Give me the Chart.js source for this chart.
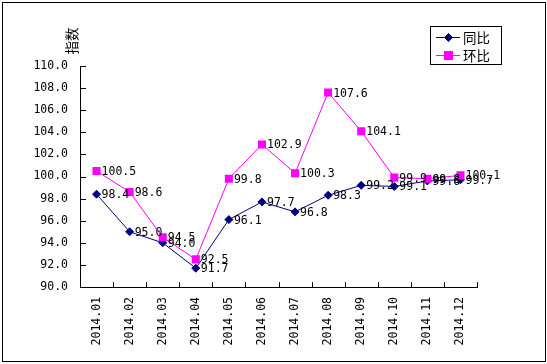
<!DOCTYPE html>
<html>
<head>
<meta charset="utf-8">
<script src="https://cdn.jsdelivr.net/npm/chart.js@4/dist/chart.umd.min.js"></script>
<style>
  html, body { margin: 0; padding: 0; background: #fff; }
  canvas { display: block; }
</style>
</head>
<body>
<canvas id="c" width="547" height="364"></canvas>
<script>
const categories = ['2014.01','2014.02','2014.03','2014.04','2014.05','2014.06','2014.07','2014.08','2014.09','2014.10','2014.11','2014.12'];
const yoyValues = [98.4, 95.0, 94.0, 91.7, 96.1, 97.7, 96.8, 98.3, 99.2, 99.1, 99.6, 99.7];
const momValues = [100.5, 98.6, 94.5, 92.5, 99.8, 102.9, 100.3, 107.6, 104.1, 99.9, 99.8, 100.1];
const seriesNames = ['同比', '环比'];
const yAxisTitle = '指数';
const yMin = 90, yMax = 110, yStep = 2;

const NUM_FAMILY = '"DejaVu Sans Mono", "Liberation Mono", monospace';
const NUM_SIZE = 11.5;
const NUM_FONT = NUM_SIZE + 'px ' + NUM_FAMILY;
const CJK_FONT = '13.5px "Noto Sans CJK SC", sans-serif';

const decorPlugin = {
  id: 'decor',
  beforeDraw(chart) {
    const ctx = chart.ctx;
    ctx.save();
    ctx.fillStyle = '#fff';
    ctx.fillRect(0, 0, chart.width, chart.height);
    ctx.strokeStyle = '#000';
    ctx.lineWidth = 1;
    ctx.strokeRect(2.5, 2.5, 543, 359);
    ctx.restore();
  },
  afterDraw(chart) {
    const ctx = chart.ctx;
    const area = chart.chartArea;
    const xs = chart.scales.x, ys = chart.scales.y;
    ctx.save();
    ctx.strokeStyle = '#000';
    ctx.lineWidth = 1;
    ctx.beginPath();
    for (let v = yMin; v <= yMax; v += yStep) {
      const py = Math.round(ys.getPixelForValue(v)) + 0.5;
      ctx.moveTo(area.left, py);
      ctx.lineTo(area.left + 6, py);
    }
    const n = categories.length;
    for (let i = 1; i <= n; i++) {
      let px;
      if (i === n) px = area.right;
      else px = (xs.getPixelForValue(i - 1) + xs.getPixelForValue(i)) / 2;
      px = Math.round(px) + 0.5;
      ctx.moveTo(px, area.bottom);
      ctx.lineTo(px, area.bottom - 5);
    }
    ctx.stroke();

    ctx.fillStyle = '#000';
    ctx.font = CJK_FONT;
    ctx.translate(area.left - 8, area.top - 25);
    ctx.rotate(-Math.PI / 2);
    ctx.textAlign = 'center';
    ctx.textBaseline = 'middle';
    ctx.fillText(yAxisTitle, 0, 0);
    ctx.restore();

    ctx.save();
    ctx.strokeStyle = '#000';
    ctx.lineWidth = 1;
    ctx.strokeRect(430.5, 26.5, 71, 38);
    [0, 1].forEach((di, k) => {
      const ds = chart.data.datasets.find(d => d.label === seriesNames[di]);
      const y = 37 + k * 18;
      ctx.strokeStyle = ds.borderColor;
      ctx.lineWidth = 1;
      ctx.beginPath();
      ctx.moveTo(436, y + 0.5);
      ctx.lineTo(460, y + 0.5);
      ctx.stroke();
      Chart.helpers.drawPoint(ctx, {
        pointStyle: ds.pointStyle, radius: ds.pointRadius, rotation: 0, borderWidth: 1
      }, 448.5, y + 0.5);
      ctx.fillStyle = ds.backgroundColor;
      ctx.fill();
      ctx.fillStyle = '#000';
      ctx.font = CJK_FONT;
      ctx.textAlign = 'left';
      ctx.textBaseline = 'middle';
      ctx.fillText(ds.label, 463, y + 1);
    });
    ctx.restore();
  },
  afterDatasetsDraw(chart) {
    const ctx = chart.ctx;
    ctx.save();
    ctx.fillStyle = '#000';
    ctx.font = NUM_FONT;
    ctx.textAlign = 'left';
    ctx.textBaseline = 'middle';
    seriesNames.forEach(name => {
      const di = chart.data.datasets.findIndex(d => d.label === name);
      const meta = chart.getDatasetMeta(di);
      const vals = chart.data.datasets[di].data;
      meta.data.forEach((pt, i) => {
        ctx.fillText(vals[i].toFixed(1), pt.x + 5, pt.y + 1);
      });
    });
    ctx.restore();
  }
};

new Chart(document.getElementById('c'), {
  type: 'line',
  data: {
    labels: categories,
    datasets: [
      {
        label: seriesNames[0],
        data: yoyValues,
        borderColor: '#000080',
        backgroundColor: '#000080',
        borderWidth: 1,
        pointStyle: 'rectRot',
        pointRadius: 4,
        pointBorderWidth: 1,
        pointBackgroundColor: '#000080',
        pointBorderColor: '#000080',
        tension: 0,
        order: 1
      },
      {
        label: seriesNames[1],
        data: momValues,
        borderColor: '#ff00ff',
        backgroundColor: '#ff00ff',
        borderWidth: 1,
        pointStyle: 'rect',
        pointRadius: 5.7,
        pointBorderWidth: 0,
        pointBackgroundColor: '#ff00ff',
        pointBorderColor: '#ff00ff',
        tension: 0,
        order: 0
      }
    ]
  },
  options: {
    responsive: false,
    animation: false,
    devicePixelRatio: 1,
    layout: { padding: { top: 66, right: 70, left: 0, bottom: 0 } },
    plugins: {
      legend: { display: false },
      tooltip: { enabled: false },
      title: { display: false }
    },
    scales: {
      x: {
        offset: true,
        grid: { display: false, drawTicks: false, tickLength: 0 },
        border: { display: true, color: '#000', width: 1 },
        ticks: {
          color: '#000',
          font: { family: NUM_FAMILY, size: NUM_SIZE },
          minRotation: 90,
          maxRotation: 90,
          padding: 10,
          autoSkip: false
        },
        afterFit(scale) { scale.height = 77; }
      },
      y: {
        min: yMin,
        max: yMax,
        grid: { display: false, drawTicks: false, tickLength: 0 },
        border: { display: true, color: '#000', width: 1 },
        ticks: {
          stepSize: yStep,
          color: '#000',
          font: { family: NUM_FAMILY, size: NUM_SIZE },
          padding: 12,
          callback: v => Number(v).toFixed(1)
        },
        afterFit(scale) { scale.width = 80; }
      }
    }
  },
  plugins: [decorPlugin]
});
</script>
</body>
</html>
